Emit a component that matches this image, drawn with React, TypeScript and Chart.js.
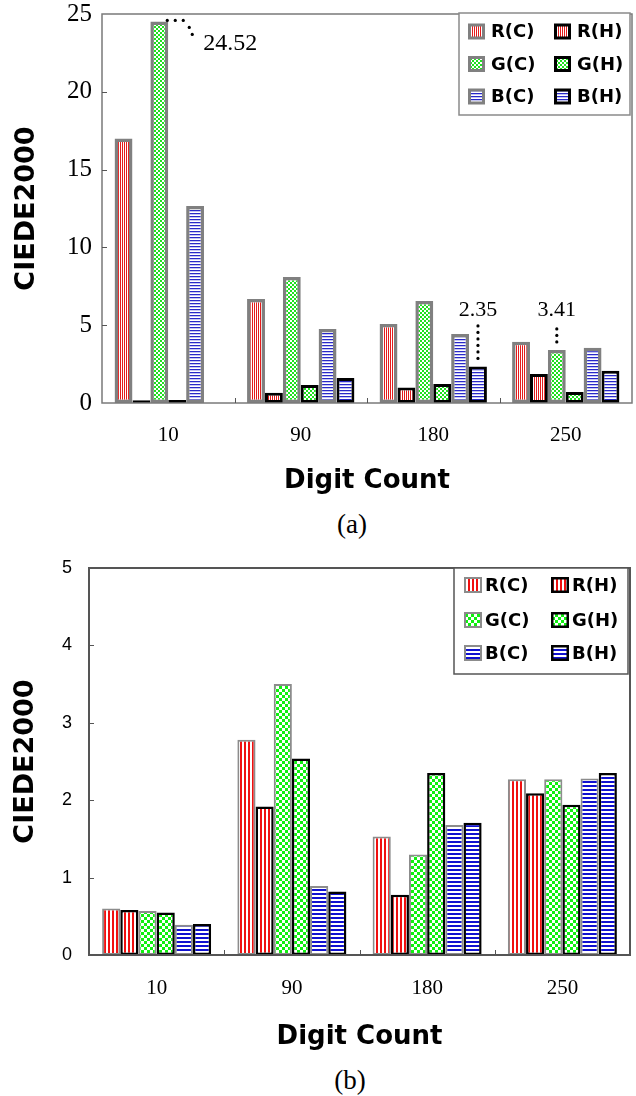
import React, { useEffect, useRef } from "react";
import { Chart, registerables } from "chart.js";

Chart.register(...registerables);

// ---------- data ----------
const categories = ["10", "90", "180", "250"];
const seriesLabels = ["R(C)", "R(H)", "G(C)", "G(H)", "B(C)", "B(H)"];

// panel (a)
const aRC = [17.0, 6.68, 5.08, 3.94];
const aRH = [0.18, 0.66, 1.0, 1.86];
const aGC = [24.52, 8.1, 6.55, 3.41];
const aGH = [0.2, 1.16, 1.22, 0.7];
const aBC = [12.66, 4.75, 4.43, 3.55];
const aBH = [0, 1.6, 2.35, 2.08];
const aYMax = 25;
const aYStep = 5;

// panel (b)
const bRC = [0.6, 2.78, 1.53, 2.27];
const bRH = [0.58, 1.92, 0.78, 2.09];
const bGC = [0.57, 3.5, 1.3, 2.27];
const bGH = [0.55, 2.54, 2.35, 1.94];
const bBC = [0.39, 0.89, 1.68, 2.28];
const bBH = [0.4, 0.82, 1.71, 2.35];
const bYMax = 5;
const bYStep = 1;

// annotations of panel (a): dataset index, category index, label
const aNotes = [
  { ds: 2, idx: 0, text: "24.52", curve: true, labelValue: 23.1 },
  { ds: 5, idx: 2, text: "2.35", curve: false, labelValue: 5.98 },
  { ds: 2, idx: 3, text: "3.41", curve: false, labelValue: 5.98 },
];

// ---------- patterns ----------
function stripes(dir: "v" | "h", colors: string[]): CanvasPattern {
  const c = document.createElement("canvas");
  const n = colors.length;
  c.width = dir === "v" ? n : 1;
  c.height = dir === "v" ? 1 : n;
  const g = c.getContext("2d")!;
  colors.forEach((col, i) => {
    g.fillStyle = col;
    if (dir === "v") g.fillRect(i, 0, 1, 1);
    else g.fillRect(0, i, 1, 1);
  });
  return g.createPattern(c, "repeat")!;
}
function checker(cell: number, color: string): CanvasPattern {
  const c = document.createElement("canvas");
  c.width = cell * 2;
  c.height = cell * 2;
  const g = c.getContext("2d")!;
  g.fillStyle = "#ffffff";
  g.fillRect(0, 0, cell * 2, cell * 2);
  g.fillStyle = color;
  g.fillRect(0, 0, cell, cell);
  g.fillRect(cell, cell, cell, cell);
  return g.createPattern(c, "repeat")!;
}

type Spec = {
  top: number;
  height: number;
  area: { left: number; right: number; top: number; bottom: number };
  values: number[][];
  yMax: number;
  yStep: number;
  patterns: () => CanvasPattern[];
  cBorder: string;
  cBorderW: number;
  hBorderW: number;
  catPct: number;
  yTickFont: any;
  yTickPad: number;
  xTickFont: any;
  xTickPad: number;
  xTitlePadB: number;
  yTitlePadT: number;
  frame: { color: string; width: number };
  legend: {
    box: number[];
    rows: number[];
    swatchX: number[];
    swatchW: number;
    swatchH: number;
    textX: number[];
    font: string;
    color: string;
    width: number;
  };
  notes: typeof aNotes;
};

const specA: Spec = {
  top: 0,
  height: 500,
  area: { left: 102, right: 632, top: 14, bottom: 403 },
  values: [aRC, aRH, aGC, aGH, aBC, aBH],
  yMax: aYMax,
  yStep: aYStep,
  patterns: () => [
    stripes("v", ["#e41c1c", "#ffffff"]),
    checker(2, "#1fe01f"),
    stripes("h", ["#2828c8", "#c4c4f2", "#ffffff"]),
  ],
  cBorder: "#808080",
  cBorderW: 3.5,
  hBorderW: 3,
  catPct: 0.81,
  yTickFont: { family: "Liberation Serif", size: 25 },
  yTickPad: 10,
  xTickFont: { family: "Liberation Serif", size: 21 },
  xTickPad: 20,
  xTitlePadB: 3,
  yTitlePadT: 11,
  frame: { color: "#7a7a7a", width: 1.5 },
  legend: {
    box: [459, 13, 630, 115],
    rows: [31.5, 64, 96.5],
    swatchX: [468, 554],
    swatchW: 17,
    swatchH: 16,
    textX: [491, 577],
    font: 'bold 18px "DejaVu Sans"',
    color: "#8a8a8a",
    width: 1.5,
  },
  notes: aNotes,
};

const specB: Spec = {
  top: 545,
  height: 515,
  area: { left: 89, right: 630, top: 23, bottom: 410 },
  values: [bRC, bRH, bGC, bGH, bBC, bBH],
  yMax: bYMax,
  yStep: bYStep,
  patterns: () => [
    stripes("v", ["#f01010", "#f01010", "#ffffff", "#ffffff"]),
    checker(3, "#10f010"),
    stripes("h", ["#1010d0", "#1010d0", "#ffffff", "#ffffff"]),
  ],
  cBorder: "#8c8c8c",
  cBorderW: 2,
  hBorderW: 2.5,
  catPct: 0.806,
  yTickFont: { family: "Liberation Sans", size: 18 },
  yTickPad: 17,
  xTickFont: { family: "Liberation Serif", size: 21 },
  xTickPad: 21,
  xTitlePadB: 7,
  yTitlePadT: 10,
  frame: { color: "#555555", width: 2 },
  legend: {
    box: [454, 23, 628, 129],
    rows: [40, 75, 108],
    swatchX: [464, 551],
    swatchW: 18,
    swatchH: 16,
    textX: [485, 572],
    font: 'bold 18px "DejaVu Sans"',
    color: "#555555",
    width: 1.5,
  },
  notes: [],
};

function buildConfig(spec: Spec): any {
  const pats = spec.patterns();
  const datasets = seriesLabels.map((label, i) => ({
    label,
    data: spec.values[i],
    backgroundColor: pats[Math.floor(i / 2)],
    borderColor: i % 2 === 0 ? spec.cBorder : "#000000",
    borderWidth: i % 2 === 0 ? spec.cBorderW : spec.hBorderW,
    borderSkipped: false,
    categoryPercentage: spec.catPct,
    barPercentage: 1,
  }));

  const decor = {
    id: "decor",
    afterDatasetsDraw(chart: any) {
      const { ctx, chartArea: a, scales } = chart;
      ctx.save();
      // frame
      ctx.strokeStyle = spec.frame.color;
      ctx.lineWidth = spec.frame.width;
      ctx.strokeRect(a.left, a.top, a.right - a.left, a.bottom - a.top);
      // inward y ticks
      ctx.lineWidth = 1;
      ctx.strokeStyle = "#555";
      for (let v = spec.yStep; v < spec.yMax; v += spec.yStep) {
        const y = Math.round(scales.y.getPixelForValue(v)) + 0.5;
        ctx.beginPath();
        ctx.moveTo(a.left, y);
        ctx.lineTo(a.left + 5, y);
        ctx.stroke();
      }
      // x ticks between categories
      for (let i = 1; i < categories.length; i++) {
        const x =
          Math.round(
            (scales.x.getPixelForTick(i - 1) + scales.x.getPixelForTick(i)) / 2
          ) + 0.5;
        ctx.beginPath();
        ctx.moveTo(x, a.bottom);
        ctx.lineTo(x, a.bottom - 5);
        ctx.stroke();
      }
      ctx.restore();
    },
    afterDraw(chart: any) {
      const { ctx, scales } = chart;
      const L = spec.legend;
      ctx.save();
      // legend box
      ctx.fillStyle = "#ffffff";
      ctx.fillRect(L.box[0], L.box[1], L.box[2] - L.box[0], L.box[3] - L.box[1]);
      ctx.strokeStyle = L.color;
      ctx.lineWidth = L.width;
      ctx.strokeRect(L.box[0], L.box[1], L.box[2] - L.box[0], L.box[3] - L.box[1]);
      ctx.font = L.font;
      ctx.textBaseline = "middle";
      ctx.textAlign = "left";
      for (let r = 0; r < 3; r++) {
        for (let c = 0; c < 2; c++) {
          const i = r * 2 + c;
          const ds = chart.data.datasets[i];
          const x = L.swatchX[c];
          const y = L.rows[r] - L.swatchH / 2;
          const bw = Math.min(ds.borderWidth, 3);
          ctx.fillStyle = ds.borderColor;
          ctx.fillRect(x, y, L.swatchW, L.swatchH);
          ctx.fillStyle = ds.backgroundColor;
          ctx.fillRect(x + bw, y + bw, L.swatchW - 2 * bw, L.swatchH - 2 * bw);
          ctx.fillStyle = "#000";
          ctx.fillText(ds.label, L.textX[c], L.rows[r] + 1);
        }
      }
      // annotations
      ctx.fillStyle = "#000";
      for (const n of spec.notes) {
        const bar = chart.getDatasetMeta(n.ds).data[n.idx];
        const { x, y, width } = bar.getProps(["x", "y", "width"], true);
        const ly = scales.y.getPixelForValue(n.labelValue);
        const dot = (px: number, py: number) => {
          ctx.beginPath();
          ctx.arc(px, py, 1.6, 0, Math.PI * 2);
          ctx.fill();
        };
        if (n.curve) {
          const xr = x + width / 2;
          const pts = [
            [-1, -1],
            [7, -1],
            [15, -1],
            [21, 6],
            [24, 13],
          ];
          pts.forEach(([dx, dy]) => dot(xr + dx, y + dy));
          ctx.font = '24px "Liberation Serif"';
          ctx.textAlign = "left";
          ctx.textBaseline = "middle";
          ctx.fillText(n.text, xr + 35, ly);
        } else {
          for (let py = y - 8; py >= ly + 14; py -= 6.5) dot(x, py);
          ctx.font = '22px "Liberation Serif"';
          ctx.textAlign = "center";
          ctx.textBaseline = "middle";
          ctx.fillText(n.text, x, ly);
        }
      }
      ctx.restore();
    },
  };

  return {
    type: "bar",
    data: { labels: categories, datasets },
    plugins: [decor],
    options: {
      responsive: false,
      animation: false,
      devicePixelRatio: 1,
      layout: {
        padding: {
          left: 0,
          top: spec.area.top,
          right: 636 - spec.area.right,
          bottom: 0,
        },
      },
      plugins: {
        legend: { display: false },
        tooltip: { enabled: false },
        title: { display: false },
      },
      scales: {
        x: {
          grid: { display: false, drawTicks: false },
          border: { display: false },
          ticks: { color: "#000", font: spec.xTickFont, padding: spec.xTickPad },
          title: {
            display: true,
            text: "Digit Count",
            color: "#000",
            font: { family: "DejaVu Sans", weight: "bold", size: 26 },
            padding: { top: 0, bottom: spec.xTitlePadB },
          },
          afterFit: (s: any) => {
            s.height = spec.height - spec.area.bottom;
            s.paddingLeft = 0;
            s.paddingRight = 0;
          },
        },
        y: {
          min: 0,
          max: spec.yMax,
          grid: { display: false, drawTicks: false },
          border: { display: false },
          ticks: {
            stepSize: spec.yStep,
            color: "#000",
            font: spec.yTickFont,
            padding: spec.yTickPad,
          },
          title: {
            display: true,
            text: "CIEDE2000",
            color: "#000",
            font: { family: "DejaVu Sans", weight: "bold", size: 27 },
            padding: { top: spec.yTitlePadT, bottom: 0 },
          },
          afterFit: (s: any) => {
            s.width = spec.area.left;
            s.paddingTop = 0;
            s.paddingBottom = 0;
          },
        },
      },
    },
  };
}

function Panel({ spec }: { spec: Spec }) {
  const ref = useRef<HTMLCanvasElement>(null);
  useEffect(() => {
    const chart = new Chart(ref.current!, buildConfig(spec));
    return () => chart.destroy();
  }, [spec]);
  return (
    <canvas
      ref={ref}
      width={636}
      height={spec.height}
      style={{
        position: "absolute",
        left: 0,
        top: spec.top,
        width: 636,
        height: spec.height,
        display: "block",
      }}
    />
  );
}

const captionStyle = (cx: number, cy: number): React.CSSProperties => ({
  position: "absolute",
  left: cx - 50,
  top: cy - 15,
  width: 100,
  height: 30,
  lineHeight: "30px",
  textAlign: "center",
  fontFamily: '"Liberation Serif", serif',
  fontSize: 27,
  color: "#000",
});

export default function App() {
  return (
    <div
      style={{
        position: "absolute",
        left: 0,
        top: 0,
        width: 636,
        height: 1096,
        background: "#ffffff",
        overflow: "hidden",
      }}
    >
      <Panel spec={specA} />
      <div style={captionStyle(352, 524)}>(a)</div>
      <Panel spec={specB} />
      <div style={captionStyle(350, 1080)}>(b)</div>
    </div>
  );
}
